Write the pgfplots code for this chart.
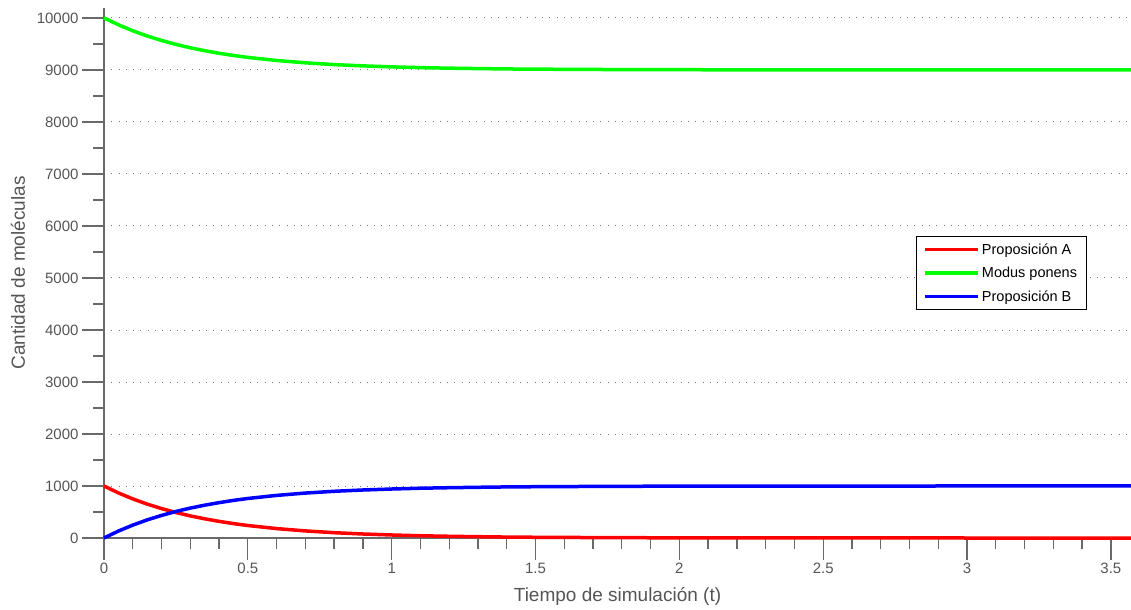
\documentclass[border=0pt]{standalone}
\usepackage{fontspec}
\setmainfont{Liberation Sans}
\usepackage{pgfplots}
\usepackage{pgfplotstable}
\pgfplotsset{compat=1.18}
\definecolor{axgray}{RGB}{105,105,105}
\definecolor{txtgray}{RGB}{85,85,85}
\definecolor{gridgray}{RGB}{120,120,120}
\pgfplotstableread{
t     A     M      B
0     1000  10000  0
0.05  867   9867   133
0.1   752   9752   248
0.15  652   9652   348
0.2   566   9566   434
0.25  490   9490   510
0.3   425   9425   575
0.35  369   9369   631
0.4   320   9320   680
0.45  277   9277   723
0.5   240   9240   760
0.6   181   9181   819
0.7   136   9136   864
0.8   102   9102   898
0.9   77    9077   923
1.0   58    9058   942
1.1   43    9043   957
1.2   33    9033   967
1.3   25    9025   975
1.4   18    9018   982
1.5   14    9014   986
1.75  7     9007   993
2.0   3     9003   997
2.5   1     9001   999
3.0   0     9000   1000
3.57  0     9000   1000
}\datatable
\begin{document}
\begin{tikzpicture}
\begin{axis}[
  name=ax,
  scale only axis,
  width=1027bp, height=530bp,
  xmin=0, xmax=3.57, ymin=0, ymax=10190,
  axis lines=left,
  axis line style={-, axgray, line width=1.5bp},
  tick align=outside,
  major tick length=22bp, minor tick length=11bp,
  every tick/.style={axgray, line width=1.3bp},
  xtick={0,0.5,...,3.5},
  ytick={0,1000,...,10000},
  scaled y ticks=false,
  scaled x ticks=false,
  minor x tick num=4,
  minor y tick num=1,
  ymajorgrids,
  major grid style={gridgray, line width=0.9bp, dash pattern=on 0.9bp off 6.4bp},
  /pgf/number format/assume math mode=true,
  /pgf/number format/1000 sep={},
  tick label style={font=\fontsize{15bp}{17bp}\selectfont, text=txtgray},
  xlabel={Tiempo de simulación (t)},
  ylabel={Cantidad de moléculas},
  label style={font=\fontsize{19bp}{21bp}\selectfont, text=txtgray},
  x label style={at={(axis description cs:0.5,-0.1094)}, anchor=center},
  y label style={at={(axis description cs:-0.0837,0.5)}, anchor=center, rotate=0},
  clip=false,
  legend style={at={(0.7907,0.5698)}, anchor=north west, draw=black, line width=0.8bp,
    font=\fontsize{14.5bp}{16bp}\selectfont, inner xsep=7bp, inner ysep=5bp,
    row sep=7.5bp, legend cell align=left, text=black},
  legend image code/.code={\draw[#1] (0bp,0bp) -- (53bp,0bp);},
]
\addplot[red, line width=3.5bp] table[x=t, y=A] {\datatable};
\addlegendentry{Proposición A}
\addplot[green, line width=3.5bp] table[x=t, y=M] {\datatable};
\addlegendentry{Modus ponens}
\addplot[blue, line width=3.5bp] table[x=t, y=B] {\datatable};
\addlegendentry{Proposición B}
\coordinate (O) at (rel axis cs:0,0);
\end{axis}
\pgfresetboundingbox
\path[use as bounding box] ([shift={(-104bp,-72bp)}]O) rectangle ([shift={(1027bp,538bp)}]O);
\end{tikzpicture}
\end{document}
